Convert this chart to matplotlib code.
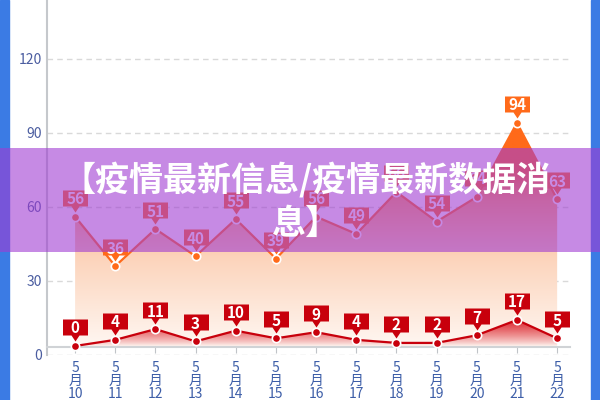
import numpy as np
import matplotlib
matplotlib.use("Agg")
import matplotlib.pyplot as plt
from matplotlib.colors import LinearSegmentedColormap, to_rgb
from matplotlib.path import Path
from matplotlib.patches import Rectangle

plt.rcParams['font.family'] = ['Noto Sans CJK SC', 'DejaVu Sans']

# data
days = list(range(10, 23))
upper_vals = [56, 36, 51, 40, 55, 39, 56, 49, 66, 54, 64, 94, 63]
red_vals = [0, 4, 11, 3, 10, 5, 9, 4, 2, 2, 7, 17, 5]
month_label = "5"
month_char = "月"
yticks = [0, 30, 60, 90, 120]
title = "【疫情最新信息/疫情最新数据消\n息】"

ORANGE = "#ff6a1a"
RED = "#c8000c"
TICK_BLUE = "#3d5ea8"

x = np.arange(len(days))
px = 0.72  # points per pixel at dpi 100

fig = plt.figure(figsize=(6, 4), dpi=100)
fig.patch.set_facecolor("white")
ax = fig.add_axes([47 / 600, 45 / 400, 523 / 600, 355 / 400])
ax.set_facecolor("white")
ax.set_xlim(-0.70, 12.32)
ax.set_ylim(0, 143.7)
base = 3.2

# gradient area under upper line
poly = ax.fill_between(x, upper_vals, base, facecolor="none", edgecolor="none")
cm = LinearSegmentedColormap.from_list(
    "og", [(0.0, "#fffaf7"), (0.40, "#fcd3ba"), (0.62, "#ffa368"),
           (0.74, ORANGE), (1.0, ORANGE)])
grad = cm(np.linspace(0, 1, 256))[:, None, :]
im = ax.imshow(grad, extent=[0, 12, 0, 100], origin="lower", aspect="auto",
               zorder=1, interpolation="bilinear")
im.set_clip_path(poly.get_paths()[0], transform=ax.transData)

ax.plot(x, upper_vals, color=ORANGE, lw=1.6, zorder=3)
ax.plot(x, upper_vals, "o", color=ORANGE, ms=6, mec="white", mew=1.2, zorder=4)

# label marker: box with pointer, in pixel units relative to the point
verts = [(-12.5, 27), (12.5, 27), (12.5, 11), (4, 11), (0, 5), (-4, 11),
         (-12.5, 11), (-12.5, 27)]
codes = [Path.MOVETO] + [Path.LINETO] * 6 + [Path.CLOSEPOLY]
tag = Path(verts, codes)
tag_ms = 2 * 27 * px

for xi, v in zip(x, upper_vals):
    ax.plot(xi, v, marker=tag, ms=tag_ms, color=ORANGE, mew=0, zorder=5,
            clip_on=False)
    ax.annotate(str(v), (xi, v), xytext=(0, 19 * px), textcoords="offset points",
                ha="center", va="center_baseline", color="white",
                fontsize=11, fontweight="bold", zorder=6)

# red series on its own scale
ax2 = ax.twinx()
ax2.set_ylim(-5.9, 226)
ax2.set_yticks([])
for s in ax2.spines.values():
    s.set_visible(False)
poly2 = ax2.fill_between(x, red_vals, 0, facecolor="none", edgecolor="none")
rgrad = np.zeros((256, 1, 4))
rgrad[:, 0, :3] = to_rgb("#d8101c")
rgrad[:, 0, 3] = np.linspace(0.0, 0.9, 256) ** 0.8
im2 = ax2.imshow(rgrad, extent=[0, 12, 0, 17], origin="lower", aspect="auto",
                 zorder=1, interpolation="bilinear")
im2.set_clip_path(poly2.get_paths()[0], transform=ax2.transData)
ax2.set_xlim(-0.70, 12.32)
ax2.plot(x, red_vals, color=RED, lw=1.6, zorder=3)
ax2.plot(x, red_vals, "o", color=RED, ms=6, mec="white", mew=1.2, zorder=4)
for xi, v in zip(x, red_vals):
    ax2.plot(xi, v, marker=tag, ms=tag_ms, color=RED, mew=0, zorder=5,
             clip_on=False)
    ax2.annotate(str(v), (xi, v), xytext=(0, 19 * px), textcoords="offset points",
                 ha="center", va="center_baseline", color="white",
                 fontsize=11, fontweight="bold", zorder=6)

# axes styling
ax.set_yticks(yticks)
ax.set_yticklabels([str(t) for t in yticks], color="#4b5da0", fontsize=10)
ax.tick_params(axis="y", length=0, pad=3.5)
ax.grid(axis="y", color="#d9d9d9", linestyle=(0, (4, 3)), lw=1)
ax.set_axisbelow(True)
ax.set_xticks(x)
ax.set_xticklabels([])
ax.tick_params(axis="x", length=4, color="#c0c4c8")

# stacked date labels: month / 月 / day
for xi, d in zip(x, days):
    for k, s in enumerate([month_label, month_char, str(d)]):
        ax.annotate(s, (xi, 0), xycoords=("data", "axes fraction"),
                    xytext=(0, (-12.5 - 13.5 * k) * px),
                    textcoords="offset points", ha="center", va="center",
                    color=TICK_BLUE, fontsize=10, fontweight="medium",
                    annotation_clip=False)

ax.spines["top"].set_visible(False)
ax.spines["right"].set_visible(False)
ax.spines["left"].set_color("#c5c8cc")
ax.spines["left"].set_linewidth(1.5)
ax.spines["bottom"].set_color("#d0d3d6")
ax.spines["bottom"].set_linewidth(1.5)
ax.spines["bottom"].set_position(("data", base))

# side strips and banner
fig.patches.append(Rectangle((0, 0), 9 / 600, 1, transform=fig.transFigure,
                             color="#3b7be4", zorder=2))
fig.patches.append(Rectangle((591 / 600, 0), 9 / 600, 1, transform=fig.transFigure,
                             color="#3b7be4", zorder=2))
fig.patches.append(Rectangle((0, 1 - 252 / 400), 1, 104 / 400,
                             transform=fig.transFigure, color="#a03cd2",
                             alpha=0.6, lw=0, zorder=3))
fig.text(0.51, 1 - 201 / 400, title, ha="center", va="center", color="white",
         fontsize=24.5, fontweight="black", linespacing=1.3, zorder=4)

fig.savefig("out.png", dpi=100)
